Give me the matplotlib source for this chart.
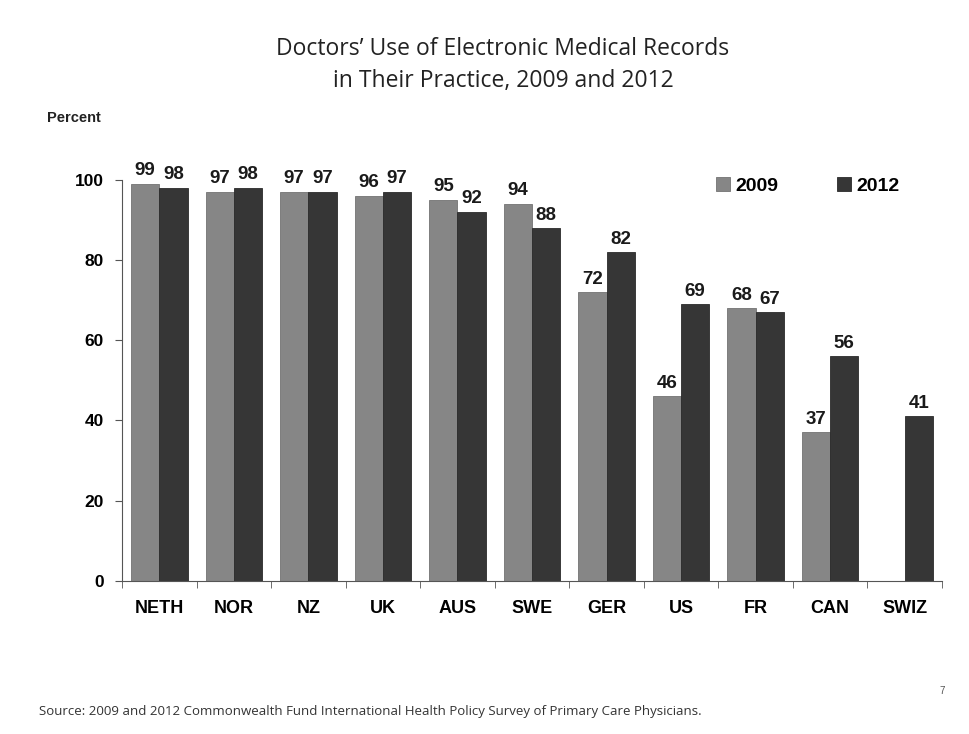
import numpy as np
import matplotlib.pyplot as plt

countries = ['NETH', 'NOR', 'NZ', 'UK', 'AUS', 'SWE', 'GER', 'US', 'FR', 'CAN', 'SWIZ']
use_2009 = [99, 97, 97, 96, 95, 94, 72, 46, 68, 37, np.nan]
use_2012 = [98, 98, 97, 97, 92, 88, 82, 69, 67, 56, 41]

plt.rcParams['font.family'] = ['Liberation Sans', 'DejaVu Sans']

fig = plt.figure(figsize=(9.69, 7.34), dpi=100)
ax = fig.add_axes([0.126, 0.2084, 0.846, 0.547])

x = np.arange(len(countries))
w = 0.38
b1 = ax.bar(x - w / 2, use_2009, w, color='#868686', edgecolor='#727272', linewidth=0.6, label='2009')
b2 = ax.bar(x + w / 2, use_2012, w, color='#363636', edgecolor='#2a2a2a', linewidth=0.6, label='2012')

lab09 = ['' if np.isnan(v) else f'{int(v)}' for v in use_2009]
ax.bar_label(b1, labels=lab09, padding=3, fontsize=13.5, fontweight='bold', color='#1a1a1a')
ax.bar_label(b2, padding=3, fontsize=13.5, fontweight='bold', color='#1a1a1a')

ax.set_xlim(-0.5, len(countries) - 0.5)
ax.set_ylim(0, 100)
ax.set_yticks([0, 20, 40, 60, 80, 100])
ax.set_xticks(x)
ax.set_xticklabels(countries, fontsize=13, fontweight='bold')
ax.set_xticks(np.arange(len(countries) + 1) - 0.5, minor=True)
ax.tick_params(axis='x', which='major', length=0, pad=14)
ax.tick_params(axis='x', which='minor', length=5, color='#555555')
ax.tick_params(axis='y', length=5, color='#555555', labelsize=12.5, pad=8)
for t in ax.get_yticklabels():
    t.set_fontweight('bold')

for s in ['top', 'right']:
    ax.spines[s].set_visible(False)
ax.spines['left'].set_color('#555555')
ax.spines['bottom'].set_color('#555555')

ax.legend(loc='upper right', ncol=2, frameon=False,
          prop={'weight': 'bold', 'size': 14}, handlelength=0.7, handleheight=0.7,
          columnspacing=3.0, handletextpad=0.3, bbox_to_anchor=(0.97, 1.05))

fig.text(0.519, 0.912, "Doctors\u2019 Use of Electronic Medical Records\nin Their Practice, 2009 and 2012",
         ha='center', va='center', fontsize=16.5, family=['Open Sans', 'DejaVu Sans'],
         color='#222222', linespacing=1.45)
fig.text(0.048, 0.834, 'Percent', fontsize=10.5, fontweight='bold', color='#222222')
fig.text(0.04, 0.026, 'Source: 2009 and 2012 Commonwealth Fund International Health Policy Survey of Primary Care Physicians.',
         fontsize=9.5, family=['Open Sans', 'DejaVu Sans'], color='#333333')
fig.text(0.975, 0.055, '7', fontsize=7, color='#555555', ha='right')

fig.savefig('out.png', dpi=100)
